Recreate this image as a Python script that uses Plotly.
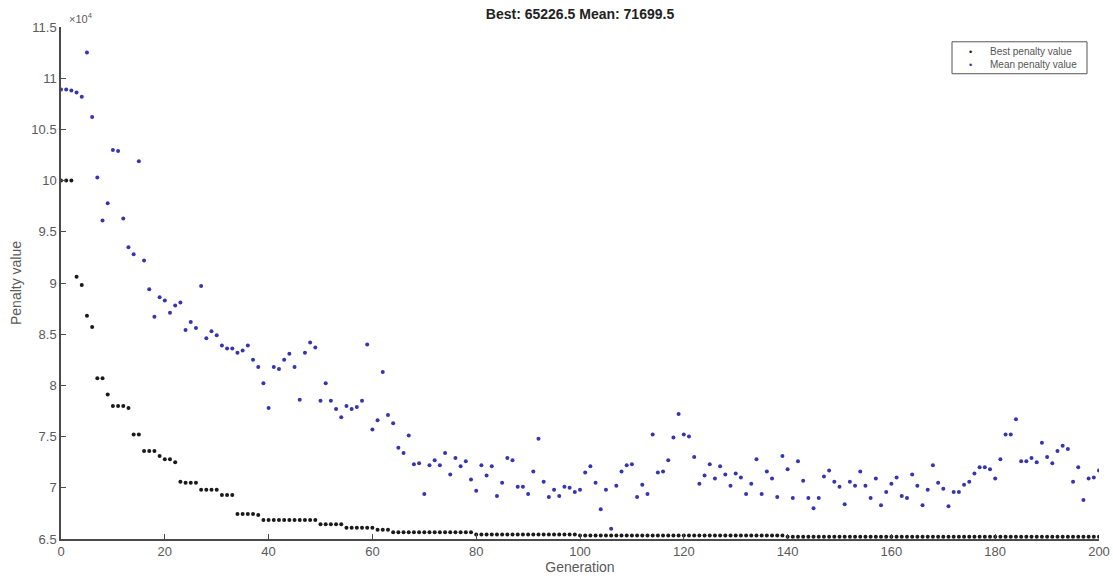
import plotly.graph_objects as go

generations = list(range(0, 201))

best_penalty = [
    100000, 100000, 100000, 90600, 89800, 86800, 85700, 80700, 80700, 79100,
    78000, 78000, 78000, 77800, 75200, 75200, 73600, 73600, 73600, 73100,
    72800, 72800, 72500, 70600, 70500, 70500, 70500, 69800, 69800, 69800,
    69800, 69300, 69300, 69300, 67450, 67450, 67450, 67450, 67350, 66850,
    66850, 66850, 66850, 66850, 66850, 66850, 66850, 66850, 66850, 66850,
    66450, 66450, 66450, 66450, 66450, 66100, 66100, 66100, 66100, 66100,
    66100, 65900, 65900, 65900, 65650, 65650, 65650, 65650, 65650, 65650,
    65650, 65650, 65650, 65650, 65650, 65650, 65650, 65650, 65650, 65650,
    65450, 65450, 65450, 65450, 65450, 65450, 65450, 65450, 65450, 65450,
    65450, 65450, 65450, 65450, 65450, 65450, 65450, 65450, 65450, 65450,
    65350, 65350, 65350, 65350, 65350, 65350, 65350, 65350, 65350, 65350,
    65350, 65350, 65350, 65350, 65350, 65350, 65350, 65350, 65350, 65350,
    65350, 65350, 65350, 65350, 65350, 65350, 65350, 65350, 65350, 65350,
    65350, 65350, 65350, 65350, 65350, 65350, 65350, 65350, 65350, 65350,
    65226.5, 65226.5, 65226.5, 65226.5, 65226.5, 65226.5, 65226.5, 65226.5, 65226.5, 65226.5,
    65226.5, 65226.5, 65226.5, 65226.5, 65226.5, 65226.5, 65226.5, 65226.5, 65226.5, 65226.5,
    65226.5, 65226.5, 65226.5, 65226.5, 65226.5, 65226.5, 65226.5, 65226.5, 65226.5, 65226.5,
    65226.5, 65226.5, 65226.5, 65226.5, 65226.5, 65226.5, 65226.5, 65226.5, 65226.5, 65226.5,
    65226.5, 65226.5, 65226.5, 65226.5, 65226.5, 65226.5, 65226.5, 65226.5, 65226.5, 65226.5,
    65226.5, 65226.5, 65226.5, 65226.5, 65226.5, 65226.5, 65226.5, 65226.5, 65226.5, 65226.5,
    65226.5,
]

mean_penalty = [
    108900, 108900, 108800, 108600, 108200, 112500, 106200, 100300, 96100, 97800,
    103000, 102900, 96300, 93500, 92800, 101900, 92200, 89400, 86700, 88600,
    88300, 87100, 87800, 88100, 85400, 86200, 85600, 89700, 84600, 85300,
    84900, 83900, 83600, 83600, 83200, 83400, 83900, 82500, 81800, 80200,
    77800, 81800, 81600, 82500, 83100, 81800, 78600, 83200, 84200, 83700,
    78500, 80200, 78500, 77700, 76900, 78000, 77700, 77900, 78500, 84000,
    75700, 76600, 81300, 77100, 76300, 73900, 73400, 75100, 72300, 72400,
    69400, 72200, 72700, 72200, 73400, 71300, 72900, 72100, 72600, 70800,
    69700, 72200, 71200, 72100, 69200, 70500, 72900, 72700, 70100, 70100,
    69400, 71600, 74800, 70600, 69100, 69800, 69200, 70100, 70000, 69600,
    69800, 71500, 72100, 70500, 67900, 69800, 66000, 70200, 71600, 72200,
    72300, 69100, 70300, 69400, 75200, 71500, 71600, 72700, 74900, 77200,
    75200, 75000, 73000, 70400, 71200, 72300, 70900, 72100, 71300, 70200,
    71400, 71000, 69400, 70400, 72800, 69400, 71600, 70900, 69100, 73100,
    71800, 69000, 72600, 70700, 69000, 68000, 69000, 71100, 71700, 70600,
    70100, 68400, 70600, 70200, 71600, 70200, 69000, 70900, 68300, 69600,
    70400, 71000, 69200, 69000, 71300, 70200, 68300, 69800, 72200, 70500,
    69900, 68200, 69600, 69600, 70300, 70600, 71400, 72000, 72000, 71800,
    70900, 72800, 75200, 75200, 76700, 72600, 72600, 72900, 72500, 74400,
    73000, 72400, 73600, 74100, 73800, 70600, 72000, 68800, 70900, 71000,
    71699.5,
]

series_names = ["Best penalty value", "Mean penalty value"]
series_colors = ["#1a1a1a", "#3535b0"]

y_tick_vals = [65000, 70000, 75000, 80000, 85000, 90000, 95000, 100000, 105000, 110000, 115000]
y_tick_text = ["6.5", "7", "7.5", "8", "8.5", "9", "9.5", "10", "10.5", "11", "11.5"]
x_tick_vals = [0, 20, 40, 60, 80, 100, 120, 140, 160, 180, 200]

axis_color = "#4a4a4a"
label_color = "#5a5a5a"
font_family = "Liberation Sans, Arial, sans-serif"

# plot area in pixels (for converting layout positions to paper coords)
L, R, T, B = 61, 1099, 26.7, 539.3
W, H = R - L, B - T


def px(xp):
    return (xp - L) / W


def py(yp):
    return (B - yp) / H


fig = go.Figure()
for vals, name, col in zip([best_penalty, mean_penalty], series_names, series_colors):
    fig.add_trace(go.Scatter(
        x=generations, y=vals, mode="markers", name=name,
        marker=dict(color=col, size=4, symbol="circle"),
        showlegend=False,
    ))

fig.update_layout(
    width=1113, height=586,
    margin=dict(l=L, r=1113 - R, t=T, b=586 - B, autoexpand=False),
    paper_bgcolor="white", plot_bgcolor="white",
    font=dict(family=font_family, size=13, color=axis_color),
    title=dict(
        text="<b>Best: 65226.5 Mean: 71699.5</b>",
        x=(L + R) / 2 / 1113, xanchor="center",
        y=1 - 14 / 586, yanchor="middle",
        font=dict(size=14, color="#222222", family=font_family),
    ),
    showlegend=False,
    xaxis=dict(
        range=[0, 200], tickvals=x_tick_vals, automargin=False,
        showline=True, linecolor=axis_color, linewidth=1.5,
        ticks="inside", ticklen=5, tickcolor=axis_color,
        showgrid=False, zeroline=False,
        title=dict(text="Generation", standoff=4, font=dict(size=14, color=label_color)),
        tickfont=dict(size=13, color=label_color),
    ),
    yaxis=dict(
        range=[65000, 115000], tickvals=y_tick_vals, ticktext=y_tick_text, automargin=False,
        showline=True, linecolor=axis_color, linewidth=1.5,
        ticks="inside", ticklen=5, tickcolor=axis_color,
        showgrid=False, zeroline=False,
        title=dict(text="Penalty value", standoff=6, font=dict(size=14, color=label_color)),
        tickfont=dict(size=13, color=label_color),
    ),
)

fig.add_annotation(
    xref="paper", yref="paper", x=px(67), y=py(27), xanchor="left", yanchor="bottom",
    text="×10<sup>4</sup>", showarrow=False,
    font=dict(size=11, color=label_color, family=font_family),
)

# legend box (drawn manually to match the compact MATLAB legend)
fig.add_shape(
    type="rect", xref="paper", yref="paper",
    x0=px(952), x1=px(1087), y0=py(73.5), y1=py(41.5),
    line=dict(color="#555555", width=1), fillcolor="white", layer="above",
)
for i, (name, col) in enumerate(zip(series_names, series_colors)):
    row_y = py(51.5 + 12.8 * i)
    fig.add_annotation(
        xref="paper", yref="paper", x=px(970), y=row_y, xanchor="center", yanchor="middle",
        text="•", showarrow=False, font=dict(size=9, color=col, family=font_family),
    )
    fig.add_annotation(
        xref="paper", yref="paper", x=px(988), y=row_y, xanchor="left", yanchor="middle",
        text=name, showarrow=False, font=dict(size=10, color="#555555", family=font_family),
    )

fig.write_html("out.html")
